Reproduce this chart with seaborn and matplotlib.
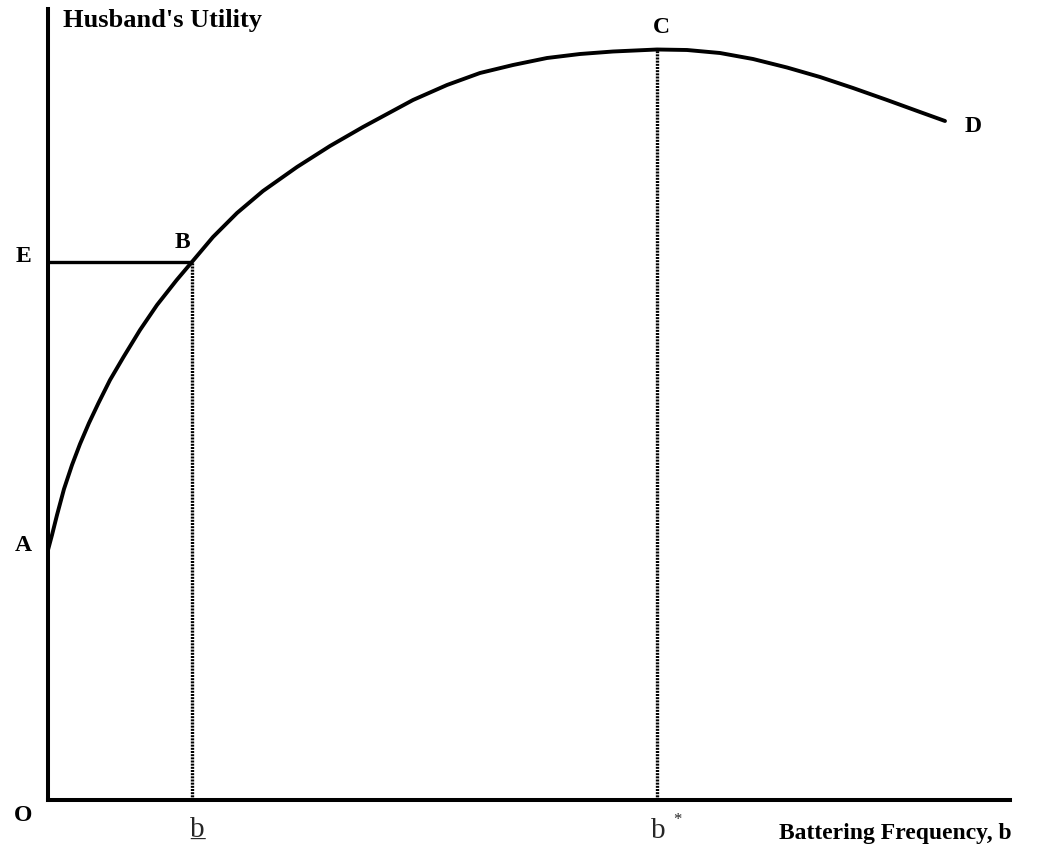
import matplotlib
matplotlib.use("Agg")
import matplotlib.pyplot as plt
import seaborn as sns

# Utility curve (x = battering frequency, y = husband's utility)
freq = [0.0, 0.416, 0.936, 1.663, 2.495, 3.326, 4.262, 5.249, 6.445, 7.848,
        9.563, 11.331, 13.378, 14.917, 17.152, 19.647, 22.349, 25.884, 29.314,
        32.744, 37.942, 41.476, 44.906, 48.337, 51.871, 55.301, 58.732, 63.306,
        66.424, 69.854, 73.285, 76.819, 80.249, 83.680, 87.214, 90.644, 93.243]
utility = [31.606, 33.502, 36.030, 39.317, 42.351, 45.006, 47.661, 50.190, 53.097,
           56.005, 59.418, 62.579, 65.740, 67.952, 71.176, 74.210, 76.991, 80.025,
           82.680, 85.082, 88.496, 90.392, 91.909, 92.920, 93.805, 94.311, 94.627,
           94.880, 94.817, 94.437, 93.679, 92.604, 91.403, 90.013, 88.496, 86.979,
           85.841]

b_low = 14.917     # b (underlined)
u_low = 67.952     # utility at B (level E)
b_star = 63.306    # b*
u_star = 94.880    # utility at C

sns.set_style("white")
plt.rcParams['font.family'] = ['Liberation Serif', 'DejaVu Serif']

fig = plt.figure(figsize=(10.39, 8.47), dpi=100)
ax = fig.add_axes([48/1039, 47/847, 962/1039, 791/847])

sns.lineplot(x=freq, y=utility, ax=ax, color='black', linewidth=2.8,
             estimator=None, sort=False)

# E - B horizontal
ax.plot([0, b_low], [u_low, u_low], color='black', linewidth=2.4, solid_capstyle='butt')
# dotted drops
ax.plot([b_low, b_low], [0, u_low], color='black', linewidth=2.4, linestyle=(0, (0.6, 0.35)))
ax.plot([b_star, b_star], [0, u_star], color='black', linewidth=2.4, linestyle=(0, (0.6, 0.35)))

ax.set_xlim(0, 100)
ax.set_ylim(0, 100)
for s in ['top', 'right']:
    ax.spines[s].set_visible(False)
for s in ['left', 'bottom']:
    ax.spines[s].set_linewidth(2.9)
    ax.spines[s].set_color('black')
ax.set_xticks([])
ax.set_yticks([])

bold = dict(fontweight='bold', color='black', clip_on=False)
ax.text(1.6, 97.76, "Husband's Utility", ha='left', va='baseline', fontsize=19, **bold)
ax.text(-2.5, 68.77, "E", ha='center', va='center', fontsize=17, **bold)
ax.text(-2.6, 32.2, "A", ha='center', va='center', fontsize=17, **bold)
ax.text(-2.6, -1.9, "O", ha='center', va='center', fontsize=17, **bold)
ax.text(13.98, 70.48, "B", ha='center', va='center', fontsize=17, **bold)
ax.text(63.72, 97.66, "C", ha='center', va='center', fontsize=17, **bold)
ax.text(96.15, 85.15, "D", ha='center', va='center', fontsize=17, **bold)
ax.text(100.2, -4.93, "Battering Frequency, b", ha='right', va='baseline', fontsize=17, **bold)

ax.text(15.5, -4.68, "b", ha='center', va='baseline', fontsize=21, clip_on=False)
ax.text(15.5, -4.68, "_", ha='center', va='baseline', fontsize=21, clip_on=False)
ax.text(63.4, -4.8, "b", ha='center', va='baseline', fontsize=21, clip_on=False)
ax.text(65.4, -2.53, "*", ha='center', va='center', fontsize=12, clip_on=False)

fig.savefig("out.png", dpi=100, facecolor='white')
